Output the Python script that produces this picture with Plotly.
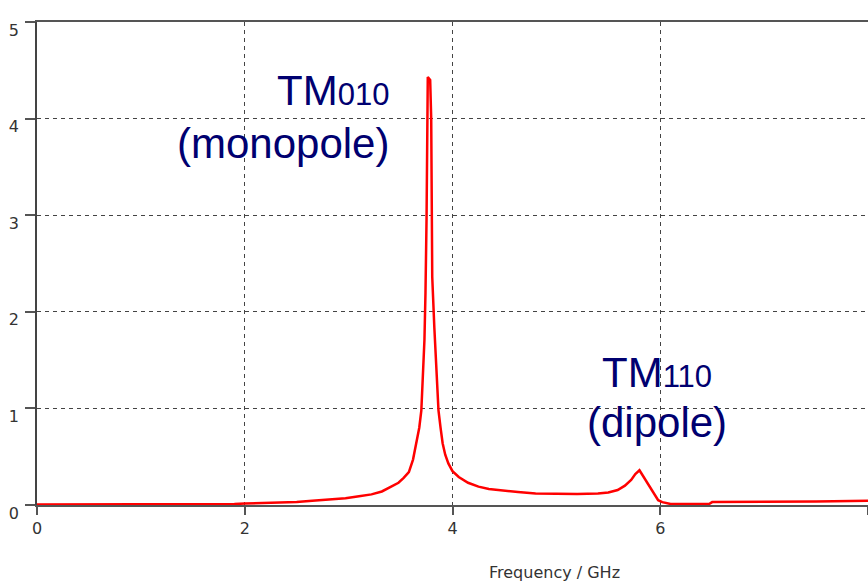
import plotly.graph_objects as go

# Spectrum sampled along the frequency axis (GHz) and the response amplitude
freq_ghz = [0.0, 0.5, 1.0, 1.5, 1.9, 2.0, 2.3, 2.5, 2.65, 2.8, 2.97, 3.1, 3.22, 3.32,
            3.41, 3.48, 3.53, 3.58, 3.62, 3.655, 3.68, 3.70, 3.715, 3.73, 3.74, 3.75,
            3.762, 3.785, 3.795, 3.805, 3.825, 3.85, 3.865, 3.885, 3.905, 3.93, 3.96,
            4.0, 4.06, 4.15, 4.25, 4.35, 4.5, 4.63, 4.8, 5.02, 5.2, 5.4, 5.5, 5.59,
            5.66, 5.72, 5.76, 5.80, 5.84, 5.88, 5.93, 5.98, 6.02, 6.1, 6.3, 6.47, 6.5,
            7.0, 7.5, 8.0]
amplitude = [0.005, 0.005, 0.005, 0.006, 0.01, 0.015, 0.02, 0.03, 0.045, 0.055, 0.07,
             0.09, 0.11, 0.14, 0.19, 0.23, 0.28, 0.34, 0.47, 0.65, 0.80, 0.98, 1.3,
             1.71, 2.2, 2.95, 4.43, 4.40, 4.0, 2.36, 1.84, 1.32, 0.98, 0.80, 0.64, 0.52,
             0.43, 0.35, 0.29, 0.23, 0.19, 0.165, 0.145, 0.135, 0.12, 0.115, 0.115,
             0.12, 0.13, 0.155, 0.2, 0.26, 0.32, 0.36, 0.29, 0.23, 0.13, 0.05, 0.03,
             0.01, 0.01, 0.01, 0.03, 0.032, 0.036, 0.045]

x_ticks = [0, 2, 4, 6, 8]
y_ticks = [0, 1, 2, 3, 4, 5]

NAVY = "#000070"
TICK_FONT = dict(family="DejaVu Sans", size=16, color="#333333")

fig = go.Figure()
fig.add_trace(go.Scatter(
    x=freq_ghz, y=amplitude, mode="lines",
    line=dict(color="#ff0000", width=2.5),
    showlegend=False, hoverinfo="skip",
))

# Mode labels: large name with a smaller, non-lowered index
mode_labels = [
    ("TM<span style='font-size:31px'>010</span>", 3.412, 4.29, "right"),
    ("(monopole)", 3.412, 3.74, "right"),
    ("TM<span style='font-size:31px'>110</span>", 5.965, 1.37, "center"),
    ("(dipole)", 5.965, 0.85, "center"),
]
for text, xa, ya, anchor in mode_labels:
    fig.add_annotation(
        x=xa, y=ya, xref="x", yref="y", text=text, showarrow=False,
        xanchor=anchor, yanchor="middle",
        font=dict(family="Liberation Sans", size=42, color=NAVY),
    )

fig.add_annotation(
    x=0.623, y=-0.139, xref="paper", yref="paper", text="Frequency / GHz",
    showarrow=False, xanchor="center", yanchor="middle",
    font=dict(family="DejaVu Sans", size=16, color="#333333"),
)

fig.update_xaxes(
    range=[0, 8], tickvals=x_ticks, ticks="outside", ticklen=8, tickwidth=1.5,
    tickcolor="#555555", tickfont=TICK_FONT,
    showline=True, linecolor="#555555", linewidth=2, mirror=True,
    showgrid=True, gridcolor="#444444", gridwidth=1, griddash="4px,4px",
    zeroline=False, fixedrange=True,
)
fig.update_yaxes(
    range=[0, 5], tickvals=y_ticks, ticks="outside", ticklen=10, tickwidth=1.5,
    tickcolor="#555555", tickfont=TICK_FONT, ticklabelshift=8,
    ticklabelstandoff=3,
    showline=True, linecolor="#444444", linewidth=1.5,
    showgrid=True, gridcolor="#444444", gridwidth=1, griddash="4px,4px",
    zeroline=False, fixedrange=True,
)

fig.update_layout(
    width=868, height=583,
    margin=dict(l=37, r=0, t=22, b=78, autoexpand=False),
    paper_bgcolor="white", plot_bgcolor="white",
)

fig.write_html("out.html", include_plotlyjs=True, config={"displayModeBar": False})
